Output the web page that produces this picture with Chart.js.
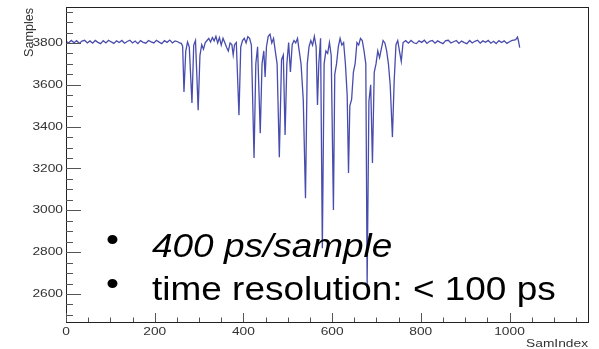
<!DOCTYPE html>
<html>
<head>
<meta charset="utf-8">
<script src="https://cdn.jsdelivr.net/npm/chart.js@4.4.1/dist/chart.umd.min.js"></script>
<style>
  html, body { margin: 0; padding: 0; background: #fff; }
  #wrap { width: 599px; height: 349px; }
</style>
</head>
<body>
<div id="wrap"><canvas id="Chart" width="599" height="349"></canvas></div>
<script>
// 波形データ (SamIndex, Samples)
const samIndex = [
  0, 6, 12, 18, 24, 30, 36, 42, 48, 54, 60, 66, 72, 78, 84, 90, 96, 102, 108, 114,
  120, 126, 132, 138, 144, 150, 156, 162, 168, 174, 180, 186, 192, 198, 204, 210, 216, 222, 228, 234,
  240, 246, 252, 256, 260, 263, 266, 270, 274, 278, 284, 288, 292, 298, 302, 306, 310, 314, 318, 322,
  326, 330, 334, 338, 342, 346, 350, 354, 358, 362, 366, 370, 374, 377, 380, 384, 390, 394, 398, 402,
  406, 410, 414, 418, 424, 428, 432, 438, 442, 446, 449, 452, 456, 460, 464, 468, 472, 476, 481, 486,
  490, 494, 498, 502, 506, 510, 514, 518, 522, 526, 530, 535, 540, 544, 548, 552, 556, 560, 564, 567,
  570, 574, 578, 582, 586, 590, 594, 598, 603, 606, 610, 614, 618, 622, 626, 630, 634, 637, 640, 644,
  648, 652, 656, 660, 664, 668, 672, 676, 679, 683, 687, 691, 695, 699, 703, 707, 711, 715, 719, 723,
  727, 731, 736, 740, 744, 748, 752, 756, 760, 766, 772, 778, 784, 790, 796, 802, 808, 814, 820, 826,
  832, 838, 844, 850, 856, 862, 868, 874, 880, 886, 892, 898, 904, 910, 916, 922, 928, 934, 940, 946,
  952, 958, 964, 970, 976, 982, 988, 994, 1000, 1006, 1010, 1014, 1018, 1020, 1023
];
const samples = [
  3808, 3800, 3812, 3801, 3811, 3798, 3809, 3813, 3800, 3810, 3799, 3812, 3803, 3797, 3811, 3800, 3813, 3805, 3798, 3810,
  3802, 3812, 3799, 3807, 3813, 3800, 3809, 3797, 3811, 3803, 3799, 3812, 3805, 3800, 3813, 3804, 3797, 3811, 3803, 3814,
  3800, 3810, 3806, 3800, 3798, 3785, 3566, 3760, 3805, 3780, 3513, 3790, 3812, 3479, 3740, 3792, 3770, 3802, 3812, 3822,
  3805, 3826, 3810, 3832, 3800, 3826, 3790, 3822, 3802, 3780, 3762, 3800, 3792, 3743, 3792, 3802, 3455, 3780, 3812, 3822,
  3800, 3830, 3822, 3790, 3250, 3700, 3782, 3369, 3700, 3762, 3637, 3782, 3832, 3842, 3800, 3822, 3760, 3700, 3254, 3720,
  3742, 3360, 3700, 3802, 3661, 3792, 3812, 3800, 3822, 3760, 3700, 3527, 3058, 3700, 3782, 3812, 3790, 3832, 3782, 3503,
  3700, 3822, 2819, 3700, 3762, 3750, 3802, 3740, 3001, 3650, 3700, 3782, 3822, 3790, 3802, 3700, 3550, 3178, 3500, 3530,
  3660, 3702, 3802, 3790, 3822, 3812, 3762, 3700, 2642, 3520, 3600, 3226, 3660, 3700, 3762, 3730, 3772, 3812, 3800, 3762,
  3700, 3600, 3350, 3620, 3792, 3812, 3760, 3712, 3802, 3811, 3799, 3812, 3801, 3797, 3810, 3803, 3813, 3798, 3808, 3812,
  3799, 3810, 3803, 3797, 3811, 3813, 3800, 3806, 3812, 3798, 3809, 3802, 3797, 3812, 3800, 3808, 3813, 3799, 3810, 3803,
  3812, 3799, 3808, 3797, 3811, 3802, 3810, 3798, 3806, 3812, 3814, 3816, 3828, 3812, 3778
];
const xTickLabels = [0, 200, 400, 600, 800, 1000];
const yTickLabels = [2600, 2800, 3000, 3200, 3400, 3600, 3800];
const textLines = ['400 ps/sample', 'time resolution: < 100 ps'];

const FONT = '"Liberation Sans", Arial, Helvetica, sans-serif';

function stretchText(ctx, txt, x, y, sx, align) {
  ctx.save();
  ctx.translate(x, y);
  ctx.scale(sx, 1);
  ctx.textAlign = align;
  ctx.fillText(txt, 0, 0);
  ctx.restore();
}

// ROOT風の枠と目盛り
const rootFrame = {
  id: 'rootFrame',
  afterDatasetsDraw(chart) {
    const ctx = chart.ctx;
    const a = chart.chartArea;
    const xs = chart.scales.x, ys = chart.scales.y;
    ctx.save();
    ctx.strokeStyle = '#222';
    ctx.lineWidth = 1;
    ctx.strokeRect(a.left + 0.5, a.top + 0.5, a.right - a.left, a.bottom - a.top);

    ctx.strokeStyle = '#555';
    ctx.beginPath();
    for (let v = 2500; v <= ys.max; v += 50) {
      if (v < ys.min) continue;
      const py = Math.round(ys.getPixelForValue(v)) + 0.5;
      const len = (v % 200 === 0) ? 15 : 7;
      ctx.moveTo(a.left, py);
      ctx.lineTo(a.left + len, py);
    }
    for (let v = 0; v <= xs.max; v += 50) {
      const px = Math.round(xs.getPixelForValue(v)) + 0.5;
      const len = (v % 200 === 0) ? 9 : 4.5;
      ctx.moveTo(px, a.bottom);
      ctx.lineTo(px, a.bottom - len);
    }
    ctx.stroke();

    ctx.fillStyle = '#333';
    ctx.font = '11px ' + FONT;
    ctx.textBaseline = 'middle';
    yTickLabels.forEach(v => {
      stretchText(ctx, String(v), a.left - 3, ys.getPixelForValue(v), 1.25, 'right');
    });
    ctx.textBaseline = 'alphabetic';
    xTickLabels.forEach(v => {
      stretchText(ctx, String(v), xs.getPixelForValue(v), 335, 1.25, 'center');
    });

    // 軸タイトル
    stretchText(ctx, 'SamIndex', a.right, 347, 1.25, 'right');
    ctx.save();
    ctx.font = '12px ' + FONT;
    ctx.translate(33, a.top + 1);
    ctx.rotate(-Math.PI / 2);
    ctx.scale(1.05, 1);
    ctx.textAlign = 'right';
    ctx.fillText('Samples', 0, 0);
    ctx.restore();

    // スライドの文字
    ctx.fillStyle = '#000';
    ctx.font = '33px ' + FONT;
    stretchText(ctx, '\u2022', 106, 251, 1.12, 'left');
    stretchText(ctx, '\u2022', 106, 295, 1.12, 'left');
    ctx.font = 'italic 33px ' + FONT;
    stretchText(ctx, textLines[0], 152, 257, 1.12, 'left');
    ctx.font = '33px ' + FONT;
    stretchText(ctx, textLines[1], 152, 300, 1.12, 'left');
    ctx.restore();
  }
};

let lineCtx = document.getElementById('Chart');
let lineConfig = {
  type: 'line',
  data: {
    datasets: [{
      label: 'Samples',
      data: samIndex.map((x, i) => ({ x: x, y: samples[i] })),
      borderColor: 'rgb(72, 76, 172)',
      borderWidth: 1.3,
      pointRadius: 0,
      tension: 0,
      fill: false
    }]
  },
  options: {
    responsive: false,
    animation: false,
    layout: { padding: { left: 66, right: 11, top: 7, bottom: 27 } },
    plugins: { legend: { display: false }, tooltip: { enabled: false } },
    scales: {
      x: { type: 'linear', min: 0, max: 1177, display: false },
      y: { type: 'linear', min: 2466, max: 3972, display: false }
    }
  },
  plugins: [rootFrame]
};
let lineChart = new Chart(lineCtx, lineConfig);
</script>
</body>
</html>
